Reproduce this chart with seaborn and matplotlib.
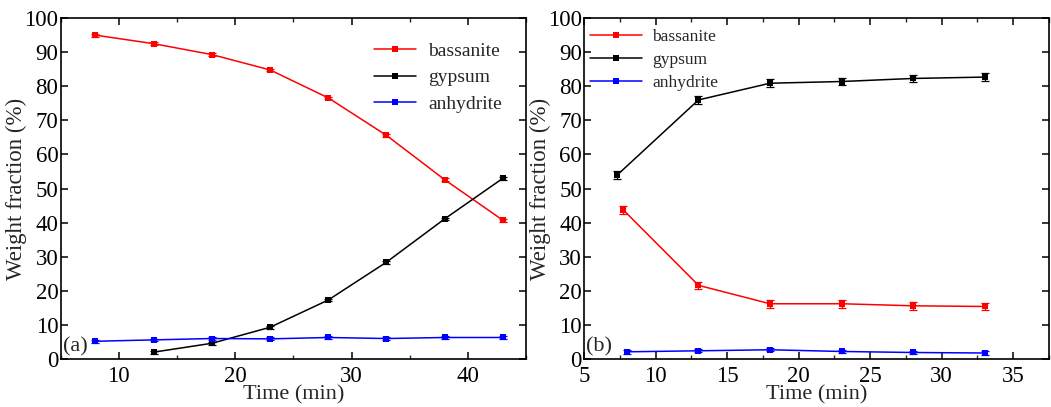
import numpy as np
import pandas as pd
import matplotlib
matplotlib.use("Agg")
import matplotlib.pyplot as plt
from matplotlib.ticker import MultipleLocator
import seaborn as sns

# panel (a)
time_a = [8, 13, 18, 23, 28, 33, 38, 43]
bassanite_a = [95.0, 92.5, 89.3, 84.8, 76.6, 65.6, 52.6, 40.7]
gypsum_a_time = [13, 18, 23, 28, 33, 38, 43]
gypsum_a = [2.0, 4.6, 9.3, 17.3, 28.4, 41.1, 53.0]
anhydrite_a = [5.2, 5.6, 6.0, 5.9, 6.3, 6.0, 6.3, 6.3]
err_a = 0.4

# panel (b)
time_b = [13, 18, 23, 28, 33]
gypsum_b_time = [7.3] + time_b
gypsum_b = [53.9, 76.0, 80.9, 81.4, 82.3, 82.7]
bassanite_b_time = [7.75] + time_b
bassanite_b = [43.7, 21.6, 16.2, 16.2, 15.6, 15.4]
anhydrite_b_time = [8] + time_b
anhydrite_b = [2.1, 2.4, 2.7, 2.2, 1.9, 1.75]
err_b = {'bassanite': 1.1, 'gypsum': 1.1, 'anhydrite': 0.5}

colors = {'bassanite': '#ff0000', 'gypsum': '#000000', 'anhydrite': '#0000ff'}

sns.set_theme(style="ticks")
plt.rcParams['font.family'] = ['Liberation Serif', 'DejaVu Serif']
plt.rcParams['xtick.direction'] = 'in'
plt.rcParams['ytick.direction'] = 'in'
plt.rcParams['xtick.top'] = True
plt.rcParams['ytick.right'] = True
plt.rcParams['axes.edgecolor'] = 'black'
plt.rcParams['axes.linewidth'] = 1.2

fig = plt.figure(figsize=(10.51, 4.07), dpi=100)
ax1 = fig.add_axes([0.0576, 0.118, 0.443, 0.8375])
ax2 = fig.add_axes([0.5557, 0.118, 0.4424, 0.8375])

def draw(ax, x, y, name, err):
    df = pd.DataFrame({'x': x, 'y': y})
    sns.lineplot(data=df, x='x', y='y', ax=ax, color=colors[name], marker='s',
                 markersize=4, markeredgewidth=0, linewidth=1.1, label=name)
    ax.errorbar(x, y, yerr=err, fmt='none', ecolor=colors[name], elinewidth=0.9,
                capsize=2.8, capthick=0.9)

draw(ax1, time_a, bassanite_a, 'bassanite', err_a)
draw(ax1, gypsum_a_time, gypsum_a, 'gypsum', err_a)
draw(ax1, time_a, anhydrite_a, 'anhydrite', err_a)

draw(ax2, bassanite_b_time, bassanite_b, 'bassanite', err_b['bassanite'])
draw(ax2, gypsum_b_time, gypsum_b, 'gypsum', err_b['gypsum'])
draw(ax2, anhydrite_b_time, anhydrite_b, 'anhydrite', err_b['anhydrite'])

for ax, xlim, major, minor, tag in [(ax1, (5, 45), 10, 5, '(a)'), (ax2, (5, 37.5), 5, 2.5, '(b)')]:
    ax.set_xlim(*xlim)
    ax.set_ylim(0, 100)
    ax.xaxis.set_major_locator(MultipleLocator(major))
    ax.xaxis.set_minor_locator(MultipleLocator(minor))
    ax.yaxis.set_major_locator(MultipleLocator(10))
    ax.tick_params(which='major', length=5, width=1.1, labelsize=16.5, colors='black')
    ax.tick_params(which='minor', length=3, width=1.0)
    ax.tick_params(axis='y', pad=1.5)
    ax.tick_params(axis='x', pad=5)
    ax.set_xlabel('Time (min)', fontsize=16, labelpad=-1.5)
    ax.set_ylabel('Weight fraction (%)', fontsize=16.5, labelpad=-2)
    ax.text(0.005, 0.035, tag, transform=ax.transAxes, fontsize=16, ha='left', va='center')
    for s in ax.spines.values():
        s.set_color('black')

leg1 = ax1.legend(loc='upper right', bbox_to_anchor=(0.985, 0.98), frameon=False, fontsize=14,
                  handlelength=2.15, handletextpad=0.6, labelspacing=0.45)
leg2 = ax2.legend(loc='upper left', bbox_to_anchor=(-0.02, 1.015), frameon=False, fontsize=12.5,
                  handlelength=3.0, handletextpad=0.55, labelspacing=0.4)

plt.savefig('out.png', dpi=100)
plt.close()
